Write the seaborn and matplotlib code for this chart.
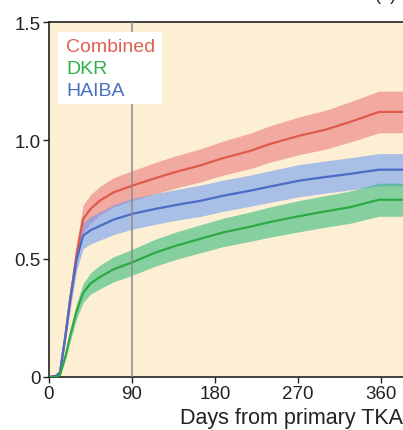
import numpy as np
import pandas as pd
import seaborn as sns
import matplotlib
matplotlib.use("Agg")
import matplotlib.pyplot as plt

# ---- data ----
days = [0, 8, 12, 18, 23, 30, 37, 45, 55, 70, 90, 115, 138, 165, 189, 218, 240, 272, 300, 326, 358, 385]
combined = [0, 0.005, 0.02, 0.18, 0.33, 0.52, 0.667, 0.71, 0.745, 0.78, 0.808, 0.84, 0.867, 0.895, 0.925, 0.955, 0.985, 1.02, 1.045, 1.077, 1.12, 1.12]
haiba = [0, 0.005, 0.02, 0.18, 0.33, 0.50, 0.597, 0.62, 0.638, 0.665, 0.689, 0.71, 0.727, 0.745, 0.766, 0.787, 0.805, 0.83, 0.845, 0.858, 0.876, 0.876]
dkr = [0, 0.0, 0.01, 0.09, 0.175, 0.28, 0.355, 0.395, 0.422, 0.455, 0.484, 0.525, 0.555, 0.585, 0.611, 0.635, 0.655, 0.68, 0.70, 0.717, 0.749, 0.749]
combined_ci = [0, 0, 0.005, 0.025, 0.04, 0.05, 0.06, 0.06, 0.06, 0.062, 0.063, 0.066, 0.068, 0.07, 0.072, 0.075, 0.077, 0.08, 0.082, 0.085, 0.088, 0.088]
haiba_ci = [0, 0, 0.005, 0.025, 0.04, 0.05, 0.055, 0.058, 0.06, 0.063, 0.065, 0.065, 0.065, 0.066, 0.066, 0.066, 0.067, 0.068, 0.068, 0.068, 0.068, 0.068]
dkr_ci = [0, 0, 0.004, 0.015, 0.025, 0.033, 0.04, 0.045, 0.05, 0.053, 0.055, 0.057, 0.058, 0.059, 0.06, 0.062, 0.064, 0.066, 0.067, 0.068, 0.07, 0.07]

series_names = ["Combined", "DKR", "HAIBA"]
xticks = [0, 90, 180, 270, 360]
yticks = [0, 0.5, 1.0, 1.5]
yticklabels = ["0", "0.5", "1.0", "1.5"]

line_colors = {"Combined": "#df5a4c", "DKR": "#2ea845", "HAIBA": "#4a6cc6"}
band_colors = {"Combined": "#e97176", "DKR": "#25b776", "HAIBA": "#6498f5"}
text_colors = {"Combined": "#e06050", "DKR": "#30b048", "HAIBA": "#4a70c0"}

vals = {"Combined": combined, "DKR": dkr, "HAIBA": haiba}
cis = {"Combined": combined_ci, "DKR": dkr_ci, "HAIBA": haiba_ci}

df = pd.concat([
    pd.DataFrame({"day": days, "value": vals[n], "ci": cis[n], "series": n})
    for n in series_names
], ignore_index=True)

sns.set_theme(style="ticks")
plt.rcParams["font.family"] = ["Liberation Sans", "DejaVu Sans"]

fig = plt.figure(figsize=(4.03, 4.31), dpi=100)
ax = fig.add_axes([49 / 403, 53 / 431, 1 - 49 / 403, 355 / 431])
ax.set_facecolor("#fdefd3")

for n in ["Combined", "HAIBA", "DKR"]:
    d = df[df.series == n]
    ax.fill_between(d.day, d.value - d.ci, d.value + d.ci,
                    color=band_colors[n], alpha=0.55, lw=0, zorder=2)

sns.lineplot(data=df, x="day", y="value", hue="series",
             palette=line_colors, hue_order=["Combined", "HAIBA", "DKR"],
             legend=False, ax=ax, lw=1.6, zorder=3)

ax.axvline(90, color="#8a8a8a", lw=1.1, zorder=4)

ax.set_xlim(0, 384)
ax.set_ylim(0, 1.5)
ax.set_xticks(xticks)
ax.set_xticklabels([str(t) for t in xticks])
ax.set_yticks(yticks)
ax.set_yticklabels(yticklabels)
ax.tick_params(axis="both", labelsize=13.5, length=4, width=1, color="#222",
               labelcolor="#222", pad=2)
ax.spines["right"].set_visible(False)
for s in ["left", "bottom", "top"]:
    ax.spines[s].set_color("#222")
    ax.spines[s].set_linewidth(1.2)

ax.set_ylabel("")
ax.set_xlabel("Days from primary TKA", fontsize=15.5, color="#222",
              ha="right")
ax.xaxis.set_label_coords(1.0, -0.085)

x0 = (58 - 49) / 354
y_top = (378 - 33) / 355
y_bot = (378 - 105) / 355
ax.add_patch(plt.Rectangle((x0, y_bot), (162 - 58) / 354, y_top - y_bot,
                           transform=ax.transAxes, facecolor="white",
                           edgecolor="none", zorder=5))
for i, n in enumerate(series_names):
    ax.text((66 - 49) / 354, (378 - 47 - i * 22) / 355, n,
            transform=ax.transAxes, color=text_colors[n], fontsize=14,
            va="center", ha="left", zorder=6)

fig.text(375 / 403, 1.0, "(a)", fontsize=13, color="#222", ha="left",
         va="baseline")

fig.savefig("out.png", dpi=100)
